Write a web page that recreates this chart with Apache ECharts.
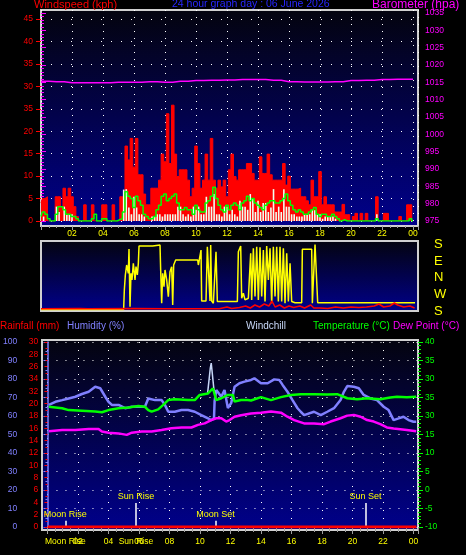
<!DOCTYPE html>
<html><head><meta charset="utf-8">
<script src="https://cdn.jsdelivr.net/npm/echarts@6/dist/echarts.min.js"></script>
<style>html,body{margin:0;padding:0;background:#000;}#c{width:466px;height:555px;}</style>
</head><body><div id="c"></div>
<script>
// ---------- DATA ----------
// wind samples every 10 minutes (kph)
const windGust = [
 4,5,5.4,0,0,0,5.4,5.4,3.2,7.3,5.4,7.3,
 5.4,3.2,1,0,0,3.6,0,0,3.6,0,0,0,
 3.6,3.6,0,0,3.6,0,0,5.4,5.4,16.7,13.6,18.4,
 12,18.4,10.3,10.3,6,3.6,3.6,7.3,7.3,7.3,9.1,14.9,
 13.2,23.9,12.8,25.8,14.9,9.9,11.4,11.4,11.4,9.1,5.4,7.3,
 16.7,12.8,7.3,9.1,14.9,9.1,18.4,9.1,7.3,9.1,7.6,9.1,
 5.4,11.4,14.9,9.9,9.1,11.4,11.4,11.4,12.8,12.8,10.6,9.1,
 9.1,14.3,10.6,10.6,14.9,10.3,9.1,9.1,9.1,9.1,12.8,8,
 10,7.1,7.1,7.1,7.3,5.4,5.4,4.5,3.6,9.1,5.4,5.4,
 11,3.6,5.4,3.6,3.6,3.6,2,2,2,3.7,1.4,1.4,
 0,1,1.7,0,1.7,0,1.7,0,0,0,5.4,0,
 0,1.7,1.7,0,0,0,0,1,0,0,3.6,3.6,
 0];
const windSpeed = [
 0,1,0,0,0,0,3.2,2,0,3.2,1.5,1.5,
 1.5,0,0,0,0,0,0,0,0,0,0,0,
 0,0,0,0,0,0,0,0,7,7.1,3,1.5,
 5.4,3,1.5,1.5,1,0,0,1,1,1.5,1.5,1,
 1.5,1.5,1.5,1.5,1.5,3.2,3.2,1.5,1,1.5,1,3.2,
 2.5,3.2,1.5,1.5,5.4,3.2,3.2,6,1.5,1.5,1,3.2,
 3.2,1.5,2.5,1.5,1,4.5,3.2,3.2,2.5,6,5,2,
 4.5,2,4,4,2,3,7.1,2,3.2,2,7.1,3.2,
 3.2,1.5,1.5,1,1,1,1.5,1.5,1.5,2.4,2.4,1.5,
 1.5,0.5,1,1,1,1,0.5,0,0,0,0,0,
 0,0,0,0,0,0,0,0,0,0,1.5,0,
 0,0,0,0,0,0,0,0,0,0,0,0,
 0];
const windAvg = [
 1,2,1.5,0.5,0,0,1.5,3.2,3.2,2.5,1.5,1.5,
 1,1,0.5,0,0,0,0,0,0.5,1.5,0,0,
 0.5,0.5,0,0,0,0,0.3,0.5,2,6.5,5.5,5,
 3,5.5,4.5,3.5,1.5,1,0.5,0.5,1,2.5,3.5,5.5,
 6,4.5,5,5.5,6,4,2.5,2.5,3,2.5,2.5,1.5,
 3.5,2.5,2,2,4,4.5,5.5,7.5,5,3.5,2.5,2,
 3.5,2.5,3.5,4,3.5,2.5,4,4.5,5.5,4.5,5,4,
 3.5,3,2.5,3.5,4,4.5,4.5,4,4,4.5,5,6,
 4.5,3.5,2.5,2,2.5,2,1.5,1.5,2,2.5,3,1.5,
 1,1.5,1.5,1,1,1.5,1,0.5,0,0.3,0,0,
 0,0,0,0,0,0,0,0,0,0,0.5,0,
 0,0,0,0,0,0,0,0,0,0,0,0.5,
 0];
const SAMPLE_STEP_H = 1 / 6;
// barometer hourly (hPa)
const barometer = [1015.3,1015.2,1014.9,1014.9,1014.9,1015.0,1015.0,1015.2,1015.0,1015.3,1015.5,1015.6,1015.7,
 1015.8,1015.8,1015.6,1015.2,1015.1,1015.1,1015.2,1015.5,1015.6,1015.8,1015.9,1015.9];
// wind direction [hour, degrees]
const windDir = [[0,8],[5.33,8],[5.376,114],[5.441,195],[5.527,249],[5.634,204],[5.677,336],[5.742,23],[5.806,204],[5.87,168],
 [5.957,258],[6.065,168],[6.129,240],[6.215,195],[6.28,258],[6.323,352],[7.204,352],[7.247,357],[7.677,357],[7.72,222],
 [7.785,42],[7.849,204],[7.935,132],[8.0,222],[8.108,168],[8.215,78],[8.323,213],[8.43,240],[8.495,32],[8.559,249],
 [8.624,258],[8.688,276],[10.108,276],[10.151,249],[10.258,249],[10.323,330],[10.366,54],[10.645,54],[10.731,348],[10.839,357],
 [10.903,54],[10.946,357],[11.011,54],[11.118,42],[11.29,321],[11.376,51],[12.667,51],[12.731,321],[12.796,330],[12.882,352],
 [12.946,69],[13.054,96],[13.161,60],[13.376,69],[13.527,312],[13.591,60],[13.699,339],[13.806,78],[13.914,348],[14.022,60],
 [14.129,345],[14.237,78],[14.344,330],[14.452,51],[14.559,352],[14.667,168],[14.774,339],[14.882,42],[14.989,348],[15.097,78],
 [15.204,348],[15.312,51],[15.419,348],[15.527,51],[15.634,339],[15.742,42],[15.849,312],[15.957,51],[16.065,258],[16.172,51],
 [16.387,45],[16.817,45],[16.86,334],[17.462,334],[17.505,42],[17.613,42],[17.677,360],[17.785,357],[17.849,45],[24.129,45]];
// small wind trace under the direction plot [hour, value]
const dirWind = [[0,2.3],[2.5,2.6],[3,2.3],[6,2.5],[8,2.3],[11.5,2.3],[12.0,4],[12.3,2.5],[12.8,3.5],[13.2,5],[13.5,3],[13.8,6],
 [14.1,4],[14.4,7],[14.7,5],[14.9,10],[15.1,4],[15.4,6],[15.7,3],[16.0,5],[16.3,3.5],[16.7,5],[17.0,3],[17.4,6],[17.6,3],
 [18.0,3],[18.5,2.5],[19.0,4],[19.5,3],[20.0,4],[20.5,3.5],[21.0,4],[21.5,5],[21.8,7],[22.1,4],[22.5,5],[22.8,8],[23.0,6],
 [23.4,4],[23.8,5],[24.1,3]];
// bottom chart [hour, value]
const humidity = [[0.09,66],[0.52,67.7],[0.96,68.6],[1.39,69.5],[1.83,70.4],[2.26,71.9],[2.7,73.1],[3.13,75.8],[3.46,75],[3.79,70.4],
 [4.0,67.7],[4.22,66],[4.66,66],[5.09,64.2],[5.53,65],[5.96,65],[6.39,65],[6.61,69.5],[7.05,68.6],[7.48,68.6],[7.7,66],[7.92,62.3],
 [8.35,62.3],[8.79,63.2],[9.22,63.2],[9.66,62.3],[10.09,60.5],[10.53,58.7],[10.74,57.8],[10.92,58.7],[10.96,68],[11.07,74],
 [11.4,70.4],[11.61,74],[11.83,64.3],[12.05,67],[12.27,75.8],[12.59,77.7],[12.92,78.6],[13.35,79.5],[13.57,80.4],[14.0,77.7],
 [14.44,77.7],[14.87,79.8],[15.2,79.5],[15.42,76.8],[15.74,73.1],[16.07,68.6],[16.4,64.2],[16.61,62.3],[16.83,60.5],[17.48,62.3],
 [17.92,60.5],[18.35,62.3],[18.79,64.2],[19.22,68.6],[19.44,73.1],[19.66,76.2],[20.09,75.8],[20.42,75],[20.74,71.4],[21.18,69.5],
 [21.61,68.6],[22.05,65],[22.37,63.2],[22.7,57.8],[23.03,58.7],[23.35,59.6],[23.68,57.8],[24.0,56.9],[24.18,56.9]];
const temperature = [[0.09,22.5],[0.96,22.1],[1.39,21.6],[2.26,21.4],[3.13,21.2],[3.57,21.0],[4.0,21.6],[4.66,22.1],[5.31,22.3],
 [5.96,22.7],[6.39,22.5],[6.61,21.6],[6.83,21.2],[7.26,21.8],[7.59,23],[7.92,24.3],[8.35,24.5],[9.22,24.3],[9.66,24.3],[9.98,25.7],
 [10.53,26.1],[10.85,27.5],[10.96,27],[11.07,24.3],[11.4,24.8],[11.83,25.7],[12.16,25.7],[12.27,23.9],[12.7,24.3],[13.13,24.3],
 [13.35,24.2],[14.0,25.1],[14.66,24.3],[15.31,25.1],[15.96,25.7],[16.61,25.9],[17.48,25.9],[18.35,25.8],[19.0,25.9],[19.66,24.8],
 [20.31,24.5],[20.96,24.8],[21.83,24.5],[22.48,25],[22.92,25.2],[23.57,25.1],[24.18,25.2]];
const dewPoint = [[0.09,15.9],[0.96,16.2],[1.83,16.2],[2.7,16.5],[3.35,16.5],[3.57,15.8],[4.0,15.5],[4.66,15.3],[5.2,14.9],[5.53,15.5],
 [6.18,15.8],[6.83,15.8],[7.48,16.2],[8.13,16.7],[8.79,16.9],[9.44,16.9],[9.87,17.6],[10.31,18.0],[10.74,18.9],[11.07,19.4],
 [11.4,19.4],[11.72,18.5],[11.94,18.9],[12.27,19.8],[12.7,20.2],[13.35,20.7],[14.0,20.9],[14.66,21.2],[15.31,20.9],[15.74,19.8],
 [16.18,18.9],[16.83,18.0],[17.48,18],[18.14,17.8],[18.57,18.5],[19.22,19.4],[19.66,20.1],[20.09,20.3],[20.53,19.8],[20.96,18.9],
 [21.4,18.5],[21.83,17.8],[22.26,16.9],[22.7,16.6],[23.14,16.4],[23.57,16.2],[24.18,15.9]];
const windChill = [[10.5,26.1],[10.63,26.5],[10.68,33],[10.74,34.3],[10.87,34.3],[10.92,27],[11.0,26]];
const rainfall = [[0,0],[24.2,0]];
// events
const eventNames = ['Moon Rise','Sun Rise','Moon Set','Sun Set'];
const eventHours = [1.17,5.8,11.02,20.85];
const eventHeights = [1.0,3.9,1.0,3.9]; // in mm units of the rain axis
// tick labels as printed
const windTickLabels = ['0','5','10','15','20','35','30','35','40','45'];
const tempTickLabels = ['-10','-5','0','5','10','15','30','35','30','35','40'];
const rainTickLabels = ['0','2','4','6','8','10','12','14','16','18','20','32','34','26','28','30'];
const dirTickLabels = ['S','W','N','E','S'];
const hourLabel = v => v === 0 ? '' : (v === 24 ? '00' : (v < 10 ? '0' + v : '' + v));

// ---------- CHART ----------
const F = 'Liberation Sans';
const bg = {type:'linear',x:0,y:0,x2:0,y2:1,colorStops:[{offset:0,color:'#04040e'},{offset:1,color:'#00008c'}]};
const frame = {show:true,backgroundColor:bg,borderColor:'#d0d0d0',borderWidth:2,z:-1};
const dot = (c, t) => ({show:true,lineStyle:{color:c,width:1,type:t}});
const hidden = (g, min, max) => ({gridIndex:g,type:'value',show:false,min:min,max:max,splitLine:{show:false}});
const XMAX = 24.32, BXMAX = 24.3;
const gustData = windGust.map((v,i)=>[i*SAMPLE_STEP_H,v]);
const speedData = windSpeed.map((v,i)=>[i*SAMPLE_STEP_H,v]);
const avgData = windAvg.map((v,i)=>[i*SAMPLE_STEP_H,v]);
const baroData = barometer.map((v,i)=>[i,v]);
const lbl = (c, size, extra) => Object.assign({color:c,fontSize:size,fontFamily:F}, extra||{});
const tt = (text,left,top,color,size) => ({text,left,top,padding:0,textStyle:{color,fontSize:size,fontFamily:F,fontWeight:'normal'}});

const chart = echarts.init(document.getElementById('c'));
chart.setOption({
  backgroundColor:'#000',
  animation:false,
  textStyle:{fontFamily:F},
  title:[
    tt('Windspeed (kph)',34,-1,'#ff0000',11),
    tt('24 hour graph day : 06 June 2026',172,-1,'#2828ff',10.5),
    tt('Barometer (hpa)',372,-1,'#ff00ff',12),
    tt('Rainfall (mm)',0,321,'#ff0000',10),
    tt('Humidity (%)',67,321,'#8080ff',10),
    tt('Windchill',246,321,'#c8d8f8',10),
    tt('Temperature (°C)',313,321,'#00ff00',10),
    tt('Dew Point (°C)',393,321,'#ff00ff',10)
  ],
  grid:[
    Object.assign({left:41,top:10,width:377,height:216},frame),
    {left:41,top:19,width:377,height:202},
    {left:41,top:13,width:377,height:208},
    Object.assign({left:41,top:241,width:377,height:70},frame),
    {left:41,top:244.5,width:377,height:66.5},
    Object.assign({left:42,top:340,width:376,height:190},frame),
    {left:45.3,top:342,width:372.7,height:185}
  ],
  xAxis:[
    {gridIndex:0,type:'value',min:0,max:XMAX,interval:2,axisLine:{show:false},
     axisTick:{show:true,length:4,lineStyle:{color:'#a0a0a0'}},
     minorTick:{show:true,splitNumber:4,length:2,lineStyle:{color:'#a0a0a0'}},
     axisLabel:{show:false},splitLine:dot('#ffffff',[1,6])},
    hidden(1,0,XMAX),
    hidden(2,0,XMAX),
    {gridIndex:3,type:'value',position:'top',min:0,max:XMAX,interval:2,axisLine:{show:false},axisTick:{show:false},
     splitLine:{show:false},axisLabel:lbl('#ffff00',8.5,{margin:3,formatter:hourLabel})},
    hidden(4,0,XMAX),
    hidden(5,0,1),
    {gridIndex:6,type:'value',position:'bottom',min:0,max:BXMAX,interval:2,axisLine:{show:false},
     axisTick:{show:true,length:7,lineStyle:{color:'#a0a0a0'}},
     minorTick:{show:true,splitNumber:4,length:5,lineStyle:{color:'#a0a0a0'}},
     axisLabel:lbl('#ffff00',8.5,{margin:10,formatter:hourLabel}),splitLine:dot('#ffffff',[1,7])},
    {gridIndex:6,type:'value',position:'bottom',min:0,max:BXMAX,axisLine:{show:false},axisTick:{show:false},
     splitLine:{show:false},
     axisLabel:lbl('#ffff00',8.5,{margin:10,customValues:[eventHours[0],eventHours[1]],
       formatter:v=>{const k=eventHours.indexOf(v);return k>=0?eventNames[k]:'';}})}
  ],
  yAxis:[
    hidden(0,0,1),
    {gridIndex:1,type:'value',position:'left',min:0,max:45,interval:5,axisLine:{show:false},
     axisTick:{show:true,length:5,lineStyle:{color:'#ff0000'}},
     axisLabel:lbl('#ff0000',8.5,{margin:8,formatter:v=>windTickLabels[Math.round(v/5)]}),
     splitLine:dot('#ffffff',[1,9])},
    {gridIndex:2,type:'value',position:'right',min:975,max:1035,interval:5,axisLine:{show:false},
     axisTick:{show:true,length:5,lineStyle:{color:'#ff00ff'}},
     minorTick:{show:true,splitNumber:5,length:3,lineStyle:{color:'#ff00ff'}},
     axisLabel:lbl('#ff00ff',8.5,{margin:7,formatter:v=>String(v)}),splitLine:{show:false}},
    hidden(3,0,1),
    {gridIndex:4,type:'value',position:'right',min:0,max:360,interval:90,axisLine:{show:false},axisTick:{show:false},
     splitLine:{show:false},axisLabel:lbl('#ffff00',13,{margin:16,formatter:v=>dirTickLabels[Math.round(v/90)]})},
    hidden(4,0,66.5),
    hidden(5,0,1),
    {gridIndex:6,type:'value',position:'left',offset:24.3,min:0,max:100,interval:10,
     axisLine:{show:true,lineStyle:{color:'#8080ff',width:1.5}},
     axisTick:{show:true,length:4,lineStyle:{color:'#8080ff'}},
     minorTick:{show:true,splitNumber:2,length:2,lineStyle:{color:'#8080ff'}},
     axisLabel:lbl('#8080ff',8.5,{margin:6}),splitLine:{show:false}},
    {gridIndex:6,type:'value',position:'left',offset:3.3,min:0,max:30,interval:2,axisLine:{show:false},
     axisTick:{show:true,length:3,lineStyle:{color:'#ff0000'}},
     minorTick:{show:true,splitNumber:2,length:2,lineStyle:{color:'#ff0000'}},
     axisLabel:lbl('#ff0000',8.5,{margin:6,formatter:v=>rainTickLabels[Math.round(v/2)]}),splitLine:{show:false}},
    {gridIndex:6,type:'value',position:'right',min:-10,max:40,interval:5,axisLine:{show:false},
     axisTick:{show:true,length:5,lineStyle:{color:'#00ff00'}},
     minorTick:{show:true,splitNumber:5,length:3,lineStyle:{color:'#00ff00'}},
     axisLabel:lbl('#00ff00',8.5,{margin:7,formatter:v=>tempTickLabels[Math.round((v+10)/5)]}),
     splitLine:dot('#ffffff',[1,8])}
  ],
  series:[
    {name:'Gust',type:'line',xAxisIndex:1,yAxisIndex:1,data:gustData,step:'middle',showSymbol:false,symbol:'none',
     lineStyle:{color:'#ff0000',width:1},areaStyle:{color:'#ff0000',opacity:1},z:2},
    {name:'Wind',type:'bar',xAxisIndex:1,yAxisIndex:1,data:speedData,barWidth:1.6,itemStyle:{color:'#f0fff0'},z:3},
    {name:'Average',type:'line',xAxisIndex:1,yAxisIndex:1,data:avgData,step:'middle',symbol:'none',
     lineStyle:{color:'#00ff00',width:1.5},z:4},
    {name:'Barometer',type:'line',xAxisIndex:2,yAxisIndex:2,data:baroData,step:'middle',symbol:'none',
     lineStyle:{color:'#ff00ff',width:1.5},z:5},
    {name:'Direction',type:'line',xAxisIndex:4,yAxisIndex:4,data:windDir,symbol:'none',
     lineStyle:{color:'#ffff00',width:1.5},z:3},
    {name:'DirWind',type:'line',xAxisIndex:4,yAxisIndex:5,data:dirWind,symbol:'none',
     lineStyle:{color:'#ff0000',width:1.5},z:4},
    {name:'Rainfall',type:'line',xAxisIndex:6,yAxisIndex:8,data:rainfall,symbol:'none',
     lineStyle:{color:'#ff0000',width:3},z:6,
     markLine:{silent:true,symbol:['none','none'],animation:false,
       lineStyle:{color:'#ffffff',width:1.5,type:'solid'},
       label:{show:true,position:'end',distance:2,color:'#ffff00',fontSize:9,fontFamily:F,formatter:p=>p.name},
       data:eventNames.map((n,k)=>[{coord:[eventHours[k],0],name:n},{coord:[eventHours[k],eventHeights[k]],name:n}])}},
    {name:'Humidity',type:'line',xAxisIndex:6,yAxisIndex:7,data:humidity,symbol:'none',
     lineStyle:{color:'#8080ff',width:2.5},z:3},
    {name:'Windchill',type:'line',xAxisIndex:6,yAxisIndex:9,data:windChill,symbol:'none',
     lineStyle:{color:'#c8d8f8',width:1.5},z:3},
    {name:'Temperature',type:'line',xAxisIndex:6,yAxisIndex:9,data:temperature,symbol:'none',
     lineStyle:{color:'#00ff00',width:2.5},z:4},
    {name:'Dew Point',type:'line',xAxisIndex:6,yAxisIndex:9,data:dewPoint,symbol:'none',
     lineStyle:{color:'#ff00ff',width:2.5},z:4}
  ]
});
</script></body></html>
